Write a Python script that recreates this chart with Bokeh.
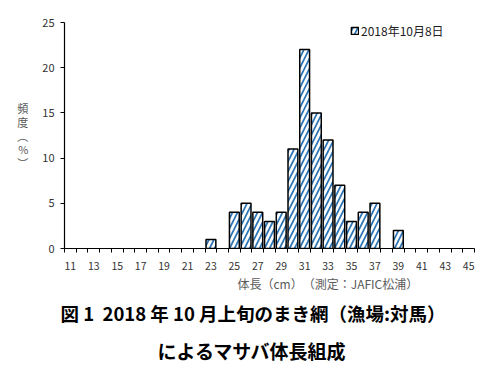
from bokeh.plotting import figure
from bokeh.models import Range1d, FixedTicker, Title, ColumnDataSource
from bokeh.embed import file_html
from bokeh.resources import INLINE

lengths = [11, 12, 13, 14, 15, 16, 17, 18, 19, 20, 21, 22, 23, 24, 25, 26, 27, 28,
           29, 30, 31, 32, 33, 34, 35, 36, 37, 38, 39, 40, 41, 42, 43, 44, 45]
freq = [0, 0, 0, 0, 0, 0, 0, 0, 0, 0, 0, 0, 1, 0, 4, 5, 4, 3,
        4, 11, 22, 15, 12, 7, 3, 4, 5, 0, 2, 0, 0, 0, 0, 0, 0]
tick_labels = [str(v) for v in range(11, 46, 2)]
series_name = "2018年10月8日"
y_title = "頻\n度\n︵\n%\n︶"
x_title = "体長（cm）　（測定：JAFIC松浦）"
title1 = "図 1\u00a0\u00a02018 年 10 月上旬のまき網（漁場:対馬）"
title2 = "によるマサバ体長組成"

FONT = "Noto Sans CJK JP"

xs = [l for l, f in zip(lengths, freq) if f > 0]
ys = [f for f in freq if f > 0]
src = ColumnDataSource(dict(x=xs, top=ys))

p = figure(width=492, height=376, output_backend="svg", toolbar_location=None,
           x_range=Range1d(lengths[0] - 0.5, lengths[-1] + 0.5), y_range=Range1d(0, 25),
           min_border_left=64, min_border_right=18, min_border_top=22, min_border_bottom=128)
p.outline_line_color = None
p.xgrid.visible = False
p.ygrid.visible = False
p.background_fill_color = "white"

p.vbar(x="x", top="top", width=0.84, source=src, fill_color="white",
       line_color="black", line_width=1.5,
       hatch_pattern="/", hatch_color="#2E75B6", hatch_weight=1.7, hatch_scale=10,
       legend_label=series_name)

# x axis
xa = p.xaxis[0]
xa.ticker = FixedTicker(ticks=[int(t) for t in tick_labels],
                        minor_ticks=[v - 0.5 for v in lengths] + [lengths[-1] + 0.5])
xa.major_tick_out = 0
xa.major_tick_in = 0
xa.minor_tick_out = 4
xa.minor_tick_in = 0
xa.minor_tick_line_color = "black"
xa.axis_line_color = "black"
xa.axis_line_width = 1.2
xa.major_label_standoff = 9
xa.major_label_text_font = FONT
xa.major_label_text_font_size = "10.5px"
xa.major_label_text_color = "#333333"

ya = p.yaxis[0]
ya.ticker = FixedTicker(ticks=[0, 5, 10, 15, 20, 25], minor_ticks=[])
ya.major_tick_out = 4
ya.major_tick_in = 0
ya.major_tick_line_color = "black"
ya.axis_line_color = "black"
ya.axis_line_width = 1.2
ya.major_label_standoff = 6
ya.major_label_text_font = FONT
ya.major_label_text_font_size = "11px"
ya.major_label_text_color = "#333333"
ya.axis_label = y_title
ya.axis_label_orientation = "horizontal"
ya.axis_label_text_font = FONT
ya.axis_label_text_font_size = "11px"
ya.axis_label_text_font_style = "normal"
ya.axis_label_text_color = "#595959"
ya.axis_label_text_line_height = 0.85
ya.axis_label_standoff = 11

# legend
lg = p.legend[0]
lg.location = (286, 209)
lg.padding = 0
lg.margin = 0
lg.spacing = 0
lg.border_line_alpha = 0
lg.background_fill_alpha = 0
lg.glyph_width = 9
lg.glyph_height = 9
lg.label_height = 12
lg.label_standoff = 2
lg.label_text_font = FONT
lg.label_text_font_size = "12px"
lg.label_text_color = "#222222"

# x title and figure caption as stacked titles below
p.add_layout(Title(text=x_title, align="left", offset=173, text_font=FONT,
                   text_font_size="12px", text_font_style="normal",
                   text_color="#595959", standoff=0), "below")
p.add_layout(Title(text=title1, align="left", offset=-4, text_font=FONT,
                   text_font_size="18.5px", text_font_style="bold",
                   text_color="black", standoff=12), "below")
p.add_layout(Title(text=title2, align="left", offset=93, text_font=FONT,
                   text_font_size="19px", text_font_style="bold",
                   text_color="black", standoff=6), "below")

open("out.html", "w").write(file_html(p, INLINE))
